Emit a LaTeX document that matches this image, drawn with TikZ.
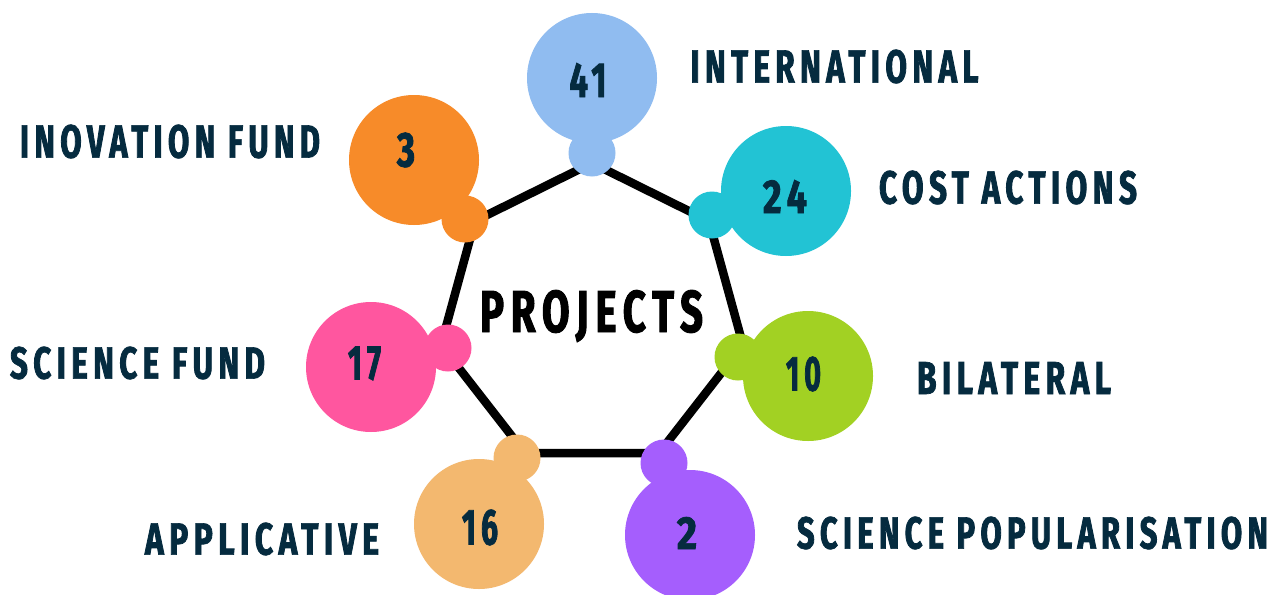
\documentclass[tikz,border=0pt]{standalone}
\usepackage{fontspec}
\usepackage{graphicx}
\newfontfamily\labfont[FakeStretch=0.58,LetterSpace=10,BoldFeatures={FakeBold=1.5}]{Fira Sans}
\definecolor{navy}{HTML}{052B3F}
\definecolor{cblue}{HTML}{90BCF0}
\definecolor{cteal}{HTML}{22C3D4}
\definecolor{cgreen}{HTML}{A2D123}
\definecolor{cpurple}{HTML}{A55EFD}
\definecolor{clorange}{HTML}{F3B86F}
\definecolor{cpink}{HTML}{FF569F}
\definecolor{corange}{HTML}{F78B29}
\newcommand{\fitbox}[3]{\resizebox{#1pt}{#2pt}{\labfont\bfseries\fontsize{48}{48}\selectfont #3}}
\begin{document}
\begin{tikzpicture}[x=1pt,y=-1pt,
  big/.style={circle, minimum size=130pt, inner sep=0pt, draw=none},
  small/.style={circle, minimum size=47pt, inner sep=0pt, draw=none},
  num/.style={inner sep=0pt, text=navy},
  lab/.style={inner sep=0pt, text=navy},
  edge/.style={line width=8.5pt, draw=black, line join=round}]
\useasboundingbox[fill=white] (0,0) rectangle (1281,594);
% heptagon corners
\coordinate (v1) at (592,163);
\coordinate (v2) at (709,221);
\coordinate (v3) at (743,345);
\coordinate (v4) at (659,453);
\coordinate (v5) at (525,453);
\coordinate (v6) at (441,345);
\coordinate (v7) at (475,221);
\draw[edge] (v1) -- (v2) -- (v3) -- (v4) -- (v5) -- (v6) -- (v7) -- cycle;
% big circles
\node[big, fill=cblue]    (ib) at (592,78)  {};
\node[big, fill=cteal]    (cb) at (786,191) {};
\node[big, fill=cgreen]   (bb) at (808,376) {};
\node[big, fill=cpurple]  (pb) at (690,535) {};
\node[big, fill=clorange] (ab) at (479,524) {};
\node[big, fill=cpink]    (sb) at (371,367) {};
\node[big, fill=corange]  (ob) at (414,160) {};
% small circles
\node[small, fill=cblue]    (is) at (592,153) {};
\node[small, fill=cteal]    (cs) at (712,215) {};
\node[small, fill=cgreen]   (bs) at (738,357) {};
\node[small, fill=cpurple]  (ps) at (664,463) {};
\node[small, fill=clorange] (as) at (517,458) {};
\node[small, fill=cpink]    (ss) at (448,348) {};
\node[small, fill=corange]  (os) at (465,219) {};
% numbers
\node[num] (n41) at (588,80)    {\fitbox{37}{34}{41}};
\node[num] (n24) at (785,196.5) {\fitbox{44}{33}{24}};
\node[num] (n10) at (803.5,374) {\fitbox{35}{34}{10}};
\node[num] (n2)  at (687,533)   {\fitbox{20}{32}{2}};
\node[num] (n16) at (480,527.5) {\fitbox{36}{35}{16}};
\node[num] (n17) at (364.5,363.5) {\fitbox{33}{33}{17}};
\node[num] (n3)  at (406,150)   {\fitbox{18}{34}{3}};
% labels
\node[lab] (lint) at (834.5,66.5) {\fitbox{288}{33}{INTERNATIONAL}};
\node[lab] (lcost) at (1008,187.5) {\fitbox{258}{33}{COST ACTIONS}};
\node[lab] (lbil) at (1014,378) {\fitbox{194}{32}{BILATERAL}};
\node[lab] (lsp) at (1032.5,533) {\fitbox{471}{32}{SCIENCE POPULARISATION}};
\node[lab] (lapp) at (262,539) {\fitbox{234}{32}{APPLICATIVE}};
\node[lab] (lsf) at (137.5,363) {\fitbox{255}{32}{SCIENCE FUND}};
\node[lab] (linf) at (170,141.5) {\fitbox{300}{33}{INOVATION FUND}};
\node[inner sep=0pt, text=black] (proj) at (591.5,316) {\fitbox{223}{42}{PROJECTS}};
\end{tikzpicture}
\end{document}
